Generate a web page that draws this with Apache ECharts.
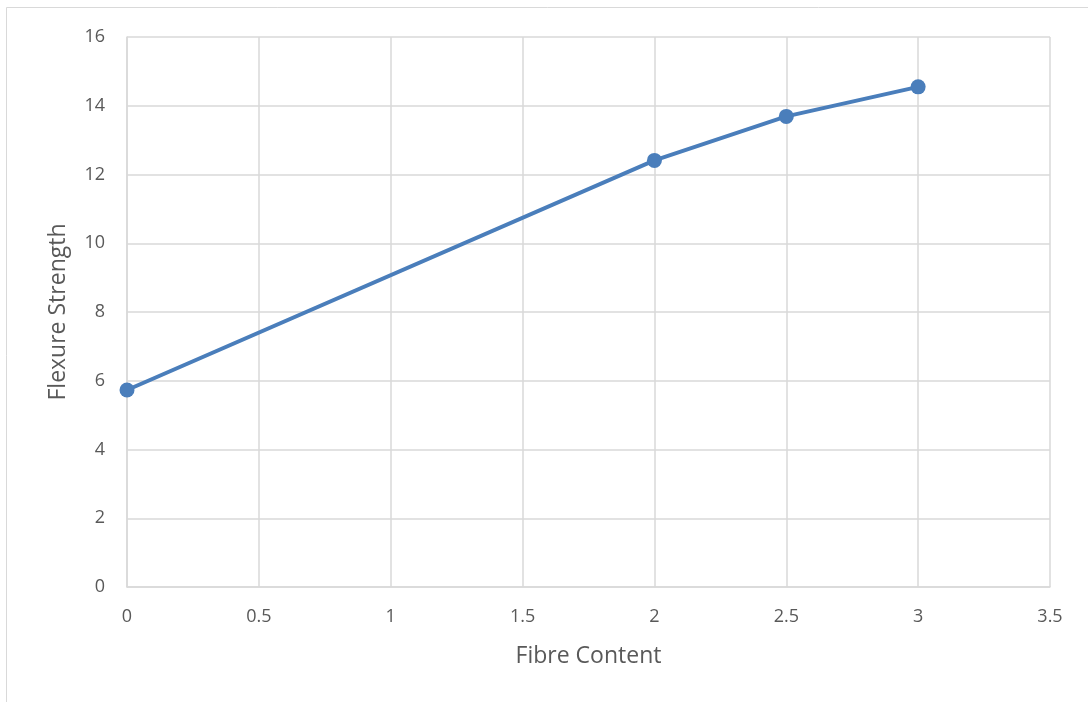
<!DOCTYPE html>
<html><head><meta charset="utf-8">
<script src="https://cdn.jsdelivr.net/npm/echarts@6/dist/echarts.min.js"></script>
<style>html,body{margin:0;padding:0;background:#fff}#c{width:1088px;height:702px}</style>
</head><body><div id="c"></div>
<script>
const fibreContent = [0, 2, 2.5, 3];
const flexureStrength = [5.73, 12.41, 13.69, 14.55];
const xTicks = [0, 0.5, 1, 1.5, 2, 2.5, 3, 3.5];
const yTicks = [0, 2, 4, 6, 8, 10, 12, 14, 16];

const chart = echarts.init(document.getElementById('c'), null, {renderer: 'canvas'});
const font = '"Open Sans", sans-serif';
chart.setOption({
  animation: false,
  backgroundColor: '#fff',
  graphic: [{
    type: 'rect', shape: {x: 6.5, y: 7.5, width: 1100, height: 720},
    style: {fill: 'none', stroke: '#d9d9d9', lineWidth: 1}, silent: true
  }],
  grid: {left: 127, right: 38, top: 37, bottom: 115, containLabel: false},
  xAxis: {
    type: 'value', min: xTicks[0], max: xTicks[xTicks.length - 1], interval: 0.5,
    name: 'Fibre Content', nameLocation: 'middle', nameGap: 58,
    nameTextStyle: {fontFamily: font, fontSize: 23, color: '#595959'},
    axisLine: {show: true, lineStyle: {color: '#d9d9d9', width: 1.5}},
    axisTick: {show: false},
    axisLabel: {fontFamily: font, fontSize: 18, color: '#595959', margin: 21},
    splitLine: {show: true, lineStyle: {color: '#d9d9d9', width: 1.5}}
  },
  yAxis: {
    type: 'value', min: yTicks[0], max: yTicks[yTicks.length - 1], interval: 2,
    name: 'Flexure Strength', nameLocation: 'middle', nameGap: 57,
    nameTextStyle: {fontFamily: font, fontSize: 23, color: '#595959'},
    axisLine: {show: true, lineStyle: {color: '#d9d9d9', width: 1.5}},
    axisTick: {show: false},
    axisLabel: {fontFamily: font, fontSize: 18, color: '#595959', margin: 22},
    splitLine: {show: true, lineStyle: {color: '#d9d9d9', width: 1.5}}
  },
  series: [{
    type: 'line',
    data: fibreContent.map((x, i) => [x, flexureStrength[i]]),
    symbol: 'circle', symbolSize: 15,
    lineStyle: {color: '#4a7ebb', width: 4},
    itemStyle: {color: '#4a7ebb'}
  }]
});
</script></body></html>
